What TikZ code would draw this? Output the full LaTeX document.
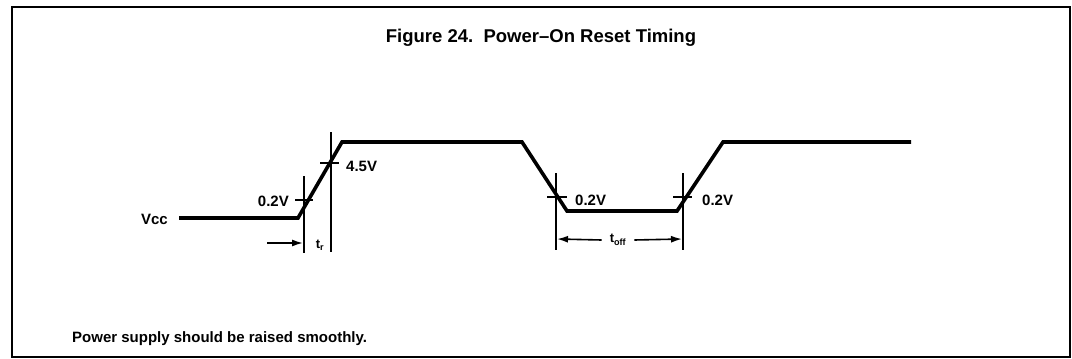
\documentclass[tikz,border=0pt]{standalone}
\usepackage{fontspec}
\setmainfont{Liberation Sans}
\usetikzlibrary{arrows.meta}
\tikzset{
  frame/.style={line width=1.6pt},
  wave/.style={line width=3.6pt, line join=miter, line cap=butt},
  marker/.style={line width=1.6pt},
  tick/.style={line width=1.6pt},
  dimarrow/.style={line width=1.6pt, -{Latex[length=11pt,width=7pt]}},
  lbl/.style={font=\fontsize{15}{17}\selectfont\bfseries, inner sep=0pt},
  sublbl/.style={font=\fontsize{13}{15}\selectfont\bfseries, inner sep=0pt},
}
\begin{document}
\begin{tikzpicture}[x=1pt,y=-1pt]
\useasboundingbox (0,0) rectangle (1072,359);
\draw[frame] (12,7) rectangle (1070,357);

\node[font=\fontsize{18.5}{21}\selectfont\bfseries, inner sep=0pt] (title) at (541,38) {Figure 24.\ \ Power--On Reset Timing};
\node[lbl, anchor=west] (foot) at (72,339) {Power supply should be raised smoothly.};

% waveform
\coordinate (v0) at (179,218);
\coordinate (v1) at (298,218);
\coordinate (v2) at (342,142);
\coordinate (v3) at (522,142);
\coordinate (v4) at (567,211);
\coordinate (v5) at (677,211);
\coordinate (v6) at (723,142);
\coordinate (v7) at (911,142);
\draw[wave] (v0) -- (v1) -- (v2) -- (v3) -- (v4) -- (v5) -- (v6) -- (v7);

\node[lbl, anchor=east] (vcc) at (168,219) {Vcc};

% rise markers
\coordinate (m1t) at (304,176); \coordinate (m1b) at (304,253);
\coordinate (k1l) at (295,200); \coordinate (k1r) at (313,200);
\draw[marker] (m1t) -- (m1b);
\draw[tick] (k1l) -- (k1r);
\node[lbl, anchor=east] (l1) at (289,201) {0.2V};

\coordinate (m2t) at (331,132); \coordinate (m2b) at (331,252);
\coordinate (k2l) at (320,163); \coordinate (k2r) at (339,163);
\draw[marker] (m2t) -- (m2b);
\draw[tick] (k2l) -- (k2r);
\node[lbl, anchor=west] (l2) at (346,166) {4.5V};

\coordinate (a1s) at (267,243);
\coordinate (a1e) at (303,243);
\draw[dimarrow] (a1s) -- (a1e);
\node[sublbl] (tr) at (320,245) {t\textsubscript{r}};

% off markers
\coordinate (m3t) at (556,173); \coordinate (m3b) at (556,250);
\coordinate (k3l) at (547,197); \coordinate (k3r) at (567,197);
\draw[marker] (m3t) -- (m3b);
\draw[tick] (k3l) -- (k3r);
\node[lbl, anchor=west] (l3) at (575,200) {0.2V};

\coordinate (m4t) at (683,173); \coordinate (m4b) at (683,250);
\coordinate (k4l) at (673,197); \coordinate (k4r) at (692,197);
\draw[marker] (m4t) -- (m4b);
\draw[tick] (k4l) -- (k4r);
\node[lbl, anchor=west] (l4) at (702,200) {0.2V};

\node[sublbl] (toff) at (618,240) {t\textsubscript{off}};
\coordinate (a2e) at (557,239);
\coordinate (a3e) at (682,239);
\draw[dimarrow] (toff.west) ++(-8,0) coordinate (a2s) -- (a2e);
\draw[dimarrow] (toff.east) ++(8,0) coordinate (a3s) -- (a3e);
\end{tikzpicture}
\end{document}
